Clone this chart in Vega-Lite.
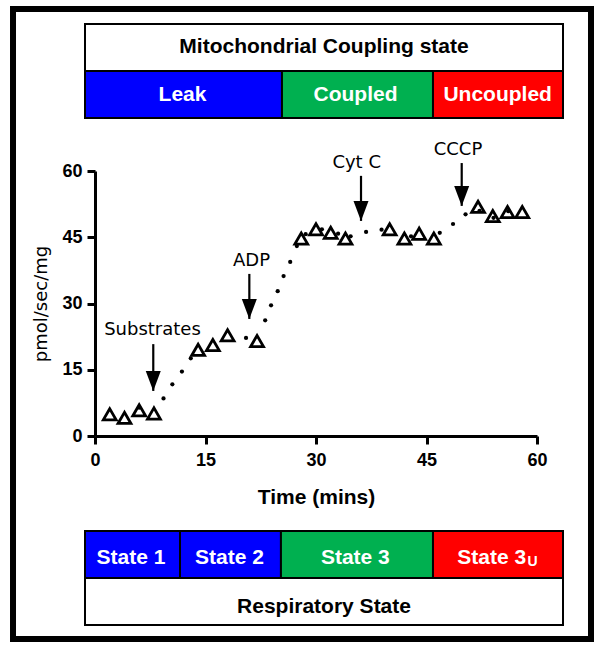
{
  "$schema": "https://vega.github.io/schema/vega-lite/v6.json",
  "background": "white",
  "padding": {"left": 10, "top": 5, "right": 5, "bottom": 3},
  "bounds": "flush",
  "spacing": 11,
  "resolve": {"scale": {"x": "independent", "y": "independent", "fill": "independent"}},
  "config": {"view": {"stroke": null}, "font": "Liberation Sans", "axis": {"grid": false}},
  "datasets": {
    "couplingTitle": [{"label": "Mitochondrial Coupling state", "tier": "title", "t": -1.357, "t2": 63.53, "mid": 31.09}],
    "coupling": [
      {"phase": "Leak", "tier": "phase", "t": -1.357, "t2": 25.38, "mid": 11.88},
      {"phase": "Coupled", "tier": "phase", "t": 25.38, "t2": 45.88, "mid": 35.36},
      {"phase": "Uncoupled", "tier": "phase", "t": 45.88, "t2": 63.53, "mid": 54.66}
    ],
    "respTitle": [{"label": "Respiratory State", "tier": "title", "t": -1.357, "t2": 63.53, "mid": 31.09}],
    "resp": [
      {"state": "State 1", "sub": "", "coupling": "Leak", "tier": "phase", "t": -1.357, "t2": 11.54, "mid": 4.89},
      {"state": "State 2", "sub": "", "coupling": "Leak", "tier": "phase", "t": 11.54, "t2": 25.24, "mid": 18.26},
      {"state": "State 3", "sub": "", "coupling": "Coupled", "tier": "phase", "t": 25.24, "t2": 45.88, "mid": 35.34},
      {"state": "State 3", "sub": "U", "coupling": "Uncoupled", "tier": "phase", "t": 45.88, "t2": 63.53, "mid": 53.85}
    ],
    "frame": [{"t": -11.13, "t2": 67.33, "v": -45.96, "v2": 96.68}],
    "tri": [
      {"t": 2, "v": 4.9}, {"t": 4, "v": 4.1}, {"t": 6, "v": 5.8}, {"t": 8, "v": 5.1},
      {"t": 14, "v": 19.5}, {"t": 16, "v": 20.6}, {"t": 18, "v": 22.8}, {"t": 22, "v": 21.5},
      {"t": 28, "v": 44.7}, {"t": 30, "v": 46.8}, {"t": 32, "v": 46.0}, {"t": 34, "v": 44.7},
      {"t": 40, "v": 46.8}, {"t": 42, "v": 44.7}, {"t": 44, "v": 45.8}, {"t": 46, "v": 44.7},
      {"t": 52, "v": 51.9}, {"t": 54, "v": 49.8}, {"t": 56, "v": 50.7}, {"t": 58, "v": 50.7}
    ],
    "dots": [
      {"t": 6.0, "v": 6.4}, {"t": 9.3, "v": 8.5}, {"t": 10.5, "v": 11.7}, {"t": 11.8, "v": 14.6},
      {"t": 13.0, "v": 17.6}, {"t": 20.5, "v": 22.2}, {"t": 23.1, "v": 26.2}, {"t": 23.9, "v": 29.6},
      {"t": 24.8, "v": 32.8}, {"t": 25.6, "v": 36.2}, {"t": 26.5, "v": 39.4}, {"t": 27.4, "v": 43.0},
      {"t": 28.6, "v": 45.7}, {"t": 30.8, "v": 46.8}, {"t": 33.0, "v": 45.8}, {"t": 34.7, "v": 45.2},
      {"t": 36.8, "v": 46.2}, {"t": 38.9, "v": 46.7}, {"t": 42.9, "v": 45.2}, {"t": 46.8, "v": 46.0},
      {"t": 48.6, "v": 48.0}, {"t": 50.3, "v": 50.2}, {"t": 52.2, "v": 51.0}, {"t": 54.1, "v": 49.4},
      {"t": 56.1, "v": 50.9}
    ],
    "arrows": [
      {"label": "Substrates", "t": 7.91, "tl": 7.80, "ty": 24.07, "top": 20.8, "tip": 10.2},
      {"label": "ADP", "t": 20.95, "tl": 21.24, "ty": 39.58, "top": 36.7, "tip": 26.5},
      {"label": "Cyt C", "t": 36.11, "tl": 35.52, "ty": 61.77, "top": 58.9, "tip": 48.7},
      {"label": "CCCP", "t": 49.78, "tl": 49.27, "ty": 64.82, "top": 61.8, "tip": 52.1}
    ]
  },
  "vconcat": [
    {
      "width": 478,
      "height": 136,
      "layer": [
        {
          "data": {"name": "couplingTitle"},
          "mark": {"type": "rect", "fill": "white", "stroke": "black", "strokeWidth": 2},
          "encoding": {
            "x": {"field": "t", "type": "quantitative", "scale": {"domain": [0, 60], "range": [10, 452]}, "axis": null},
            "x2": {"field": "t2"},
            "y": {"field": "tier", "type": "nominal", "scale": {"type": "band", "domain": ["title", "phase"], "paddingInner": 0, "paddingOuter": 0.4468, "align": 0}, "axis": null}
          }
        },
        {
          "data": {"name": "coupling"},
          "mark": {"type": "rect", "stroke": "black", "strokeWidth": 2},
          "encoding": {
            "x": {"field": "t", "type": "quantitative", "scale": {"domain": [0, 60], "range": [10, 452]}, "axis": null},
            "x2": {"field": "t2"},
            "y": {"field": "tier", "type": "nominal", "scale": {"type": "band", "domain": ["title", "phase"], "paddingInner": 0, "paddingOuter": 0.4468, "align": 0}, "axis": null},
            "fill": {"field": "phase", "type": "nominal", "scale": {"domain": ["Leak", "Coupled", "Uncoupled"], "range": ["#0000ff", "#00b050", "#ff0000"]}, "legend": null}
          }
        },
        {
          "data": {"name": "couplingTitle"},
          "mark": {"type": "text", "font": "Liberation Sans", "fontSize": 21, "fontWeight": "bold", "color": "black", "baseline": "middle", "align": "center", "dy": -1},
          "encoding": {
            "x": {"field": "mid", "type": "quantitative", "scale": {"domain": [0, 60], "range": [10, 452]}, "axis": null},
            "y": {"field": "tier", "type": "nominal", "scale": {"type": "band", "domain": ["title", "phase"], "paddingInner": 0, "paddingOuter": 0.4468, "align": 0}, "axis": null},
            "text": {"field": "label"}
          }
        },
        {
          "data": {"name": "coupling"},
          "mark": {"type": "text", "font": "Liberation Sans", "fontSize": 21, "fontWeight": "bold", "color": "white", "baseline": "middle", "align": "center"},
          "encoding": {
            "x": {"field": "mid", "type": "quantitative", "scale": {"domain": [0, 60], "range": [10, 452]}, "axis": null},
            "y": {"field": "tier", "type": "nominal", "scale": {"type": "band", "domain": ["title", "phase"], "paddingInner": 0, "paddingOuter": 0.4468, "align": 0}, "axis": null},
            "text": {"field": "phase"}
          }
        }
      ]
    },
    {
      "width": 478,
      "height": 265,
      "layer": [
        {
          "data": {"name": "frame"},
          "mark": {"type": "rect", "filled": false, "stroke": "black", "strokeWidth": 6},
          "encoding": {
            "x": {"field": "t", "type": "quantitative", "title": "Time (mins)", "scale": {"domain": [0, 60], "range": [10, 452]},
              "axis": {"values": [0, 15, 30, 45, 60], "grid": false, "domainWidth": 3, "domainColor": "black", "tickSize": 8, "tickWidth": 3, "tickColor": "black", "labelFont": "Liberation Sans", "labelFontSize": 18, "labelFontWeight": "bold", "labelColor": "black", "labelPadding": 7.5, "labelFlush": false, "labelOverlap": false, "titleFont": "Liberation Sans", "titleFontSize": 21, "titleFontWeight": "bold", "titleColor": "black", "titleX": 231, "titleY": 61.7, "titleBaseline": "middle", "titleAlign": "center"}},
            "x2": {"field": "t2"},
            "y": {"field": "v", "type": "quantitative", "title": "pmol/sec/mg", "scale": {"domain": [0, 60]},
              "axis": {"values": [0, 15, 30, 45, 60], "grid": false, "offset": -10, "domainWidth": 3, "domainColor": "black", "tickSize": 8, "tickWidth": 3, "tickColor": "black", "labelFont": "Liberation Sans", "labelFontSize": 18, "labelFontWeight": "bold", "labelColor": "black", "labelPadding": 5, "labelOverlap": false, "titleFont": "DejaVu Sans", "titleFontSize": 18, "titleFontWeight": "normal", "titleColor": "black", "titleX": -53.2, "titleY": 132.5, "titleBaseline": "middle", "titleAlign": "center", "titleAngle": -90}},
            "y2": {"field": "v2"}
          }
        },
        {
          "data": {"name": "dots"},
          "mark": {"type": "circle", "size": 18, "color": "black", "opacity": 1},
          "encoding": {
            "x": {"field": "t", "type": "quantitative", "title": "Time (mins)", "scale": {"domain": [0, 60], "range": [10, 452]},
              "axis": {"values": [0, 15, 30, 45, 60], "grid": false, "domainWidth": 3, "domainColor": "black", "tickSize": 8, "tickWidth": 3, "tickColor": "black", "labelFont": "Liberation Sans", "labelFontSize": 18, "labelFontWeight": "bold", "labelColor": "black", "labelPadding": 7.5, "labelFlush": false, "labelOverlap": false, "titleFont": "Liberation Sans", "titleFontSize": 21, "titleFontWeight": "bold", "titleColor": "black", "titleX": 231, "titleY": 61.7, "titleBaseline": "middle", "titleAlign": "center"}},
            "y": {"field": "v", "type": "quantitative", "title": "pmol/sec/mg", "scale": {"domain": [0, 60]},
              "axis": {"values": [0, 15, 30, 45, 60], "grid": false, "offset": -10, "domainWidth": 3, "domainColor": "black", "tickSize": 8, "tickWidth": 3, "tickColor": "black", "labelFont": "Liberation Sans", "labelFontSize": 18, "labelFontWeight": "bold", "labelColor": "black", "labelPadding": 5, "labelOverlap": false, "titleFont": "DejaVu Sans", "titleFontSize": 18, "titleFontWeight": "normal", "titleColor": "black", "titleX": -53.2, "titleY": 132.5, "titleBaseline": "middle", "titleAlign": "center", "titleAngle": -90}}
          }
        },
        {
          "data": {"name": "tri"},
          "mark": {"type": "point", "shape": "triangle-up", "size": 165, "filled": false, "stroke": "black", "strokeWidth": 2.8, "opacity": 1},
          "encoding": {
            "x": {"field": "t", "type": "quantitative", "title": "Time (mins)", "scale": {"domain": [0, 60], "range": [10, 452]},
              "axis": {"values": [0, 15, 30, 45, 60], "grid": false, "domainWidth": 3, "domainColor": "black", "tickSize": 8, "tickWidth": 3, "tickColor": "black", "labelFont": "Liberation Sans", "labelFontSize": 18, "labelFontWeight": "bold", "labelColor": "black", "labelPadding": 7.5, "labelFlush": false, "labelOverlap": false, "titleFont": "Liberation Sans", "titleFontSize": 21, "titleFontWeight": "bold", "titleColor": "black", "titleX": 231, "titleY": 61.7, "titleBaseline": "middle", "titleAlign": "center"}},
            "y": {"field": "v", "type": "quantitative", "title": "pmol/sec/mg", "scale": {"domain": [0, 60]},
              "axis": {"values": [0, 15, 30, 45, 60], "grid": false, "offset": -10, "domainWidth": 3, "domainColor": "black", "tickSize": 8, "tickWidth": 3, "tickColor": "black", "labelFont": "Liberation Sans", "labelFontSize": 18, "labelFontWeight": "bold", "labelColor": "black", "labelPadding": 5, "labelOverlap": false, "titleFont": "DejaVu Sans", "titleFontSize": 18, "titleFontWeight": "normal", "titleColor": "black", "titleX": -53.2, "titleY": 132.5, "titleBaseline": "middle", "titleAlign": "center", "titleAngle": -90}}
          }
        },
        {
          "data": {"name": "arrows"},
          "mark": {"type": "rule", "color": "black", "strokeWidth": 2.2},
          "encoding": {
            "x": {"field": "t", "type": "quantitative", "title": "Time (mins)", "scale": {"domain": [0, 60], "range": [10, 452]},
              "axis": {"values": [0, 15, 30, 45, 60], "grid": false, "domainWidth": 3, "domainColor": "black", "tickSize": 8, "tickWidth": 3, "tickColor": "black", "labelFont": "Liberation Sans", "labelFontSize": 18, "labelFontWeight": "bold", "labelColor": "black", "labelPadding": 7.5, "labelFlush": false, "labelOverlap": false, "titleFont": "Liberation Sans", "titleFontSize": 21, "titleFontWeight": "bold", "titleColor": "black", "titleX": 231, "titleY": 61.7, "titleBaseline": "middle", "titleAlign": "center"}},
            "y": {"field": "top", "type": "quantitative", "title": "pmol/sec/mg", "scale": {"domain": [0, 60]},
              "axis": {"values": [0, 15, 30, 45, 60], "grid": false, "offset": -10, "domainWidth": 3, "domainColor": "black", "tickSize": 8, "tickWidth": 3, "tickColor": "black", "labelFont": "Liberation Sans", "labelFontSize": 18, "labelFontWeight": "bold", "labelColor": "black", "labelPadding": 5, "labelOverlap": false, "titleFont": "DejaVu Sans", "titleFontSize": 18, "titleFontWeight": "normal", "titleColor": "black", "titleX": -53.2, "titleY": 132.5, "titleBaseline": "middle", "titleAlign": "center", "titleAngle": -90}},
            "y2": {"field": "tip"}
          }
        },
        {
          "data": {"name": "arrows"},
          "mark": {"type": "point", "shape": "M-0.75,-2L0.75,-2L0,0Z", "size": 400, "filled": true, "color": "black", "opacity": 1},
          "encoding": {
            "x": {"field": "t", "type": "quantitative", "title": "Time (mins)", "scale": {"domain": [0, 60], "range": [10, 452]},
              "axis": {"values": [0, 15, 30, 45, 60], "grid": false, "domainWidth": 3, "domainColor": "black", "tickSize": 8, "tickWidth": 3, "tickColor": "black", "labelFont": "Liberation Sans", "labelFontSize": 18, "labelFontWeight": "bold", "labelColor": "black", "labelPadding": 7.5, "labelFlush": false, "labelOverlap": false, "titleFont": "Liberation Sans", "titleFontSize": 21, "titleFontWeight": "bold", "titleColor": "black", "titleX": 231, "titleY": 61.7, "titleBaseline": "middle", "titleAlign": "center"}},
            "y": {"field": "tip", "type": "quantitative", "title": "pmol/sec/mg", "scale": {"domain": [0, 60]},
              "axis": {"values": [0, 15, 30, 45, 60], "grid": false, "offset": -10, "domainWidth": 3, "domainColor": "black", "tickSize": 8, "tickWidth": 3, "tickColor": "black", "labelFont": "Liberation Sans", "labelFontSize": 18, "labelFontWeight": "bold", "labelColor": "black", "labelPadding": 5, "labelOverlap": false, "titleFont": "DejaVu Sans", "titleFontSize": 18, "titleFontWeight": "normal", "titleColor": "black", "titleX": -53.2, "titleY": 132.5, "titleBaseline": "middle", "titleAlign": "center", "titleAngle": -90}}
          }
        },
        {
          "data": {"name": "arrows"},
          "mark": {"type": "text", "font": "DejaVu Sans", "fontSize": 18, "color": "black", "baseline": "middle", "align": "center"},
          "encoding": {
            "x": {"field": "tl", "type": "quantitative", "title": "Time (mins)", "scale": {"domain": [0, 60], "range": [10, 452]},
              "axis": {"values": [0, 15, 30, 45, 60], "grid": false, "domainWidth": 3, "domainColor": "black", "tickSize": 8, "tickWidth": 3, "tickColor": "black", "labelFont": "Liberation Sans", "labelFontSize": 18, "labelFontWeight": "bold", "labelColor": "black", "labelPadding": 7.5, "labelFlush": false, "labelOverlap": false, "titleFont": "Liberation Sans", "titleFontSize": 21, "titleFontWeight": "bold", "titleColor": "black", "titleX": 231, "titleY": 61.7, "titleBaseline": "middle", "titleAlign": "center"}},
            "y": {"field": "ty", "type": "quantitative", "title": "pmol/sec/mg", "scale": {"domain": [0, 60]},
              "axis": {"values": [0, 15, 30, 45, 60], "grid": false, "offset": -10, "domainWidth": 3, "domainColor": "black", "tickSize": 8, "tickWidth": 3, "tickColor": "black", "labelFont": "Liberation Sans", "labelFontSize": 18, "labelFontWeight": "bold", "labelColor": "black", "labelPadding": 5, "labelOverlap": false, "titleFont": "DejaVu Sans", "titleFontSize": 18, "titleFontWeight": "normal", "titleColor": "black", "titleX": -53.2, "titleY": 132.5, "titleBaseline": "middle", "titleAlign": "center", "titleAngle": -90}},
            "text": {"field": "label"}
          }
        }
      ]
    },
    {
      "width": 478,
      "height": 178,
      "layer": [
        {
          "data": {"name": "respTitle"},
          "mark": {"type": "rect", "fill": "white", "stroke": "black", "strokeWidth": 2},
          "encoding": {
            "x": {"field": "t", "type": "quantitative", "scale": {"domain": [0, 60], "range": [10, 452]}, "axis": null},
            "x2": {"field": "t2"},
            "y": {"field": "tier", "type": "nominal", "scale": {"type": "band", "domain": ["phase", "title"], "paddingInner": 0, "paddingOuter": 0.8936, "align": 1}, "axis": null}
          }
        },
        {
          "data": {"name": "resp"},
          "mark": {"type": "rect", "stroke": "black", "strokeWidth": 2},
          "encoding": {
            "x": {"field": "t", "type": "quantitative", "scale": {"domain": [0, 60], "range": [10, 452]}, "axis": null},
            "x2": {"field": "t2"},
            "y": {"field": "tier", "type": "nominal", "scale": {"type": "band", "domain": ["phase", "title"], "paddingInner": 0, "paddingOuter": 0.8936, "align": 1}, "axis": null},
            "fill": {"field": "coupling", "type": "nominal", "scale": {"domain": ["Leak", "Coupled", "Uncoupled"], "range": ["#0000ff", "#00b050", "#ff0000"]}, "legend": null}
          }
        },
        {
          "data": {"name": "respTitle"},
          "mark": {"type": "text", "font": "Liberation Sans", "fontSize": 21, "fontWeight": "bold", "color": "black", "baseline": "middle", "align": "center", "dy": 5.3},
          "encoding": {
            "x": {"field": "mid", "type": "quantitative", "scale": {"domain": [0, 60], "range": [10, 452]}, "axis": null},
            "y": {"field": "tier", "type": "nominal", "scale": {"type": "band", "domain": ["phase", "title"], "paddingInner": 0, "paddingOuter": 0.8936, "align": 1}, "axis": null},
            "text": {"field": "label"}
          }
        },
        {
          "data": {"name": "resp"},
          "mark": {"type": "text", "font": "Liberation Sans", "fontSize": 21, "fontWeight": "bold", "color": "white", "baseline": "middle", "align": "center", "dy": 3.3},
          "encoding": {
            "x": {"field": "mid", "type": "quantitative", "scale": {"domain": [0, 60], "range": [10, 452]}, "axis": null},
            "y": {"field": "tier", "type": "nominal", "scale": {"type": "band", "domain": ["phase", "title"], "paddingInner": 0, "paddingOuter": 0.8936, "align": 1}, "axis": null},
            "text": {"field": "state"}
          }
        },
        {
          "data": {"name": "resp"},
          "mark": {"type": "text", "font": "Liberation Sans", "fontSize": 14, "fontWeight": "bold", "color": "white", "baseline": "middle", "align": "center", "dx": 40.8, "dy": 7.3},
          "encoding": {
            "x": {"field": "mid", "type": "quantitative", "scale": {"domain": [0, 60], "range": [10, 452]}, "axis": null},
            "y": {"field": "tier", "type": "nominal", "scale": {"type": "band", "domain": ["phase", "title"], "paddingInner": 0, "paddingOuter": 0.8936, "align": 1}, "axis": null},
            "text": {"field": "sub"}
          }
        }
      ]
    }
  ]
}
